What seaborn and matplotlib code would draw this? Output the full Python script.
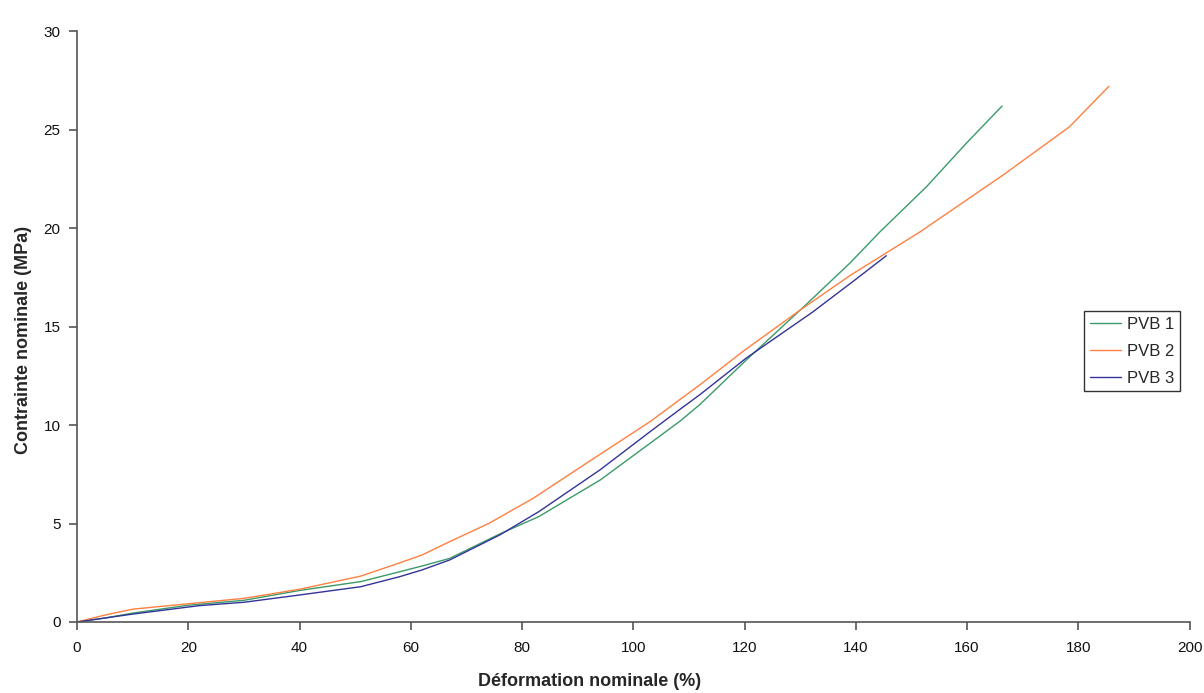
import pandas as pd
import matplotlib
matplotlib.use("Agg")
import matplotlib.pyplot as plt
import seaborn as sns

# Données (déformation %, contrainte MPa)
pvb1_x = [0, 5, 10, 20, 30, 40, 51, 58, 62, 67, 76, 83, 94, 103, 108.4, 112, 120.3, 131, 139, 144.3, 152.7, 160, 166.3]
pvb1_y = [0, 0.2, 0.45, 0.85, 1.1, 1.6, 2.05, 2.55, 2.84, 3.23, 4.47, 5.35, 7.2, 9.07, 10.2, 11.05, 13.3, 16.1, 18.24, 19.8, 22.1, 24.35, 26.2]

pvb2_x = [0, 5, 10, 22, 30, 40, 51, 58, 62, 67, 74, 82, 92, 103, 108.4, 112, 120, 130, 139, 151.5, 166.5, 178.4, 185.5]
pvb2_y = [0, 0.35, 0.65, 0.98, 1.2, 1.66, 2.33, 3.0, 3.4, 4.08, 5.0, 6.28, 8.14, 10.17, 11.3, 12.05, 13.8, 15.84, 17.6, 19.8, 22.7, 25.14, 27.2]

pvb3_x = [0, 5, 10, 22, 30, 40, 51, 58, 62, 67, 76, 83, 94, 103, 108.4, 112, 120.3, 132.3, 140, 145.5]
pvb3_y = [0, 0.2, 0.4, 0.83, 1.0, 1.37, 1.79, 2.3, 2.64, 3.15, 4.42, 5.6, 7.72, 9.66, 10.8, 11.55, 13.4, 15.75, 17.4, 18.6]

series_names = ["PVB 1", "PVB 2", "PVB 3"]
colors = ["#3a9a6a", "#ff8040", "#333399"]

x_ticks = list(range(0, 201, 20))
y_ticks = list(range(0, 31, 5))

df = pd.concat([
    pd.DataFrame({"x": pvb1_x, "y": pvb1_y, "serie": series_names[0]}),
    pd.DataFrame({"x": pvb2_x, "y": pvb2_y, "serie": series_names[1]}),
    pd.DataFrame({"x": pvb3_x, "y": pvb3_y, "serie": series_names[2]}),
])

sns.set_style("white")
plt.rcParams["font.family"] = ["Liberation Sans", "DejaVu Sans"]

fig = plt.figure(figsize=(12.04, 6.93), dpi=100)
ax = fig.add_axes([0.064, 0.1025, 0.924, 0.8525])

sns.lineplot(data=df, x="x", y="y", hue="serie", palette=colors,
             sort=False, estimator=None, linewidth=1.0, ax=ax)

ax.set_xlim(0, 200)
ax.set_ylim(0, 30)
ax.set_xticks(x_ticks)
ax.set_yticks(y_ticks)
ax.tick_params(axis="both", which="major", bottom=True, left=True,
               direction="out", length=6, width=1.2, color="#555555",
               labelsize=11, labelcolor="#111111")
ax.tick_params(axis="x", pad=8)
ax.tick_params(axis="y", pad=6)
for side in ["top", "right"]:
    ax.spines[side].set_visible(False)
for side in ["left", "bottom"]:
    ax.spines[side].set_color("#555555")
    ax.spines[side].set_linewidth(1.2)

ax.set_xlabel("Déformation nominale (%)", fontsize=13, fontweight="bold")
ax.set_ylabel("Contrainte nominale (MPa)", fontsize=13, fontweight="bold")
ax.xaxis.set_label_coords(0.4605, -0.0863)
ax.yaxis.set_label_coords(-0.0404, 0.477)

leg = ax.legend(loc="center left", bbox_to_anchor=(0.905, 0.458), borderaxespad=0,
                frameon=True, fancybox=False, fontsize=12, handlelength=1.9,
                handletextpad=0.35, borderpad=0.35, labelspacing=0.7,
                edgecolor="black")
leg.get_frame().set_linewidth(1.0)
leg.set_title(None)

fig.savefig("out.png", dpi=100)
